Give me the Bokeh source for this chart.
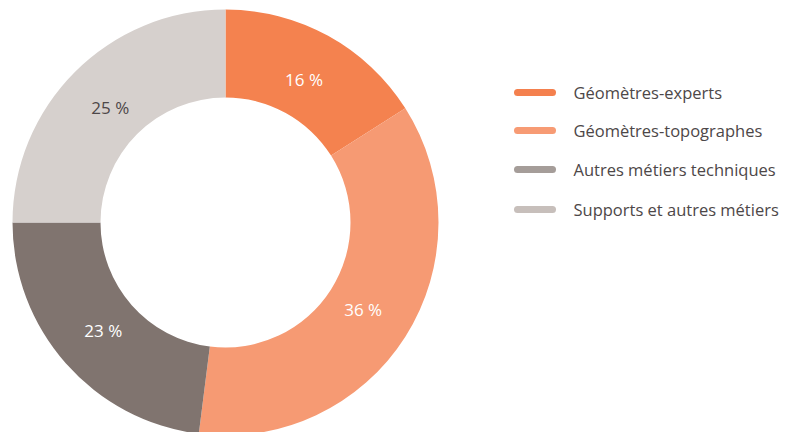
import math
from bokeh.plotting import figure
from bokeh.models import Range1d, ColumnDataSource
from bokeh.core.properties import value
from bokeh.embed import file_html
from bokeh.resources import INLINE

categories = ["Géomètres-experts", "Géomètres-topographes", "Autres métiers techniques", "Supports et autres métiers"]
shares = [16, 36, 23, 25]
labels = ["16 %", "36 %", "23 %", "25 %"]
slice_colors = ["#F4824F", "#F69A73", "#80746F", "#D6D0CD"]
legend_colors = ["#F4804E", "#F79B74", "#A59D99", "#C7BFBB"]
label_colors = ["#FFFFFF", "#FFFFFF", "#FFFFFF", "#4D4748"]

FONT = "Open Sans"
TEXT = "#4D4748"

total = sum(shares)
starts, ends, lx, ly = [], [], [], []
a = math.pi / 2
R_OUT, R_IN, R_LAB = 213, 125, 163
for s in shares:
    span = 2 * math.pi * s / total
    starts.append(a)
    ends.append(a - span)
    mid = a - span / 2
    lx.append(R_LAB * math.cos(mid))
    ly.append(R_LAB * math.sin(mid))
    a -= span

src = ColumnDataSource(dict(start=starts, end=ends, color=slice_colors))

W, H = 789, 432
CX, CY = 225, 222
p = figure(width=W, height=H, output_backend="svg", toolbar_location=None,
           x_range=Range1d(-CX, W - CX), y_range=Range1d(-(H - CY), CY),
           min_border=0)
p.axis.visible = False
p.grid.visible = False
p.outline_line_color = None
p.background_fill_color = "white"
p.border_fill_color = "white"

p.annular_wedge(x=0, y=0, inner_radius=R_IN, outer_radius=R_OUT,
                start_angle="start", end_angle="end", direction="clock",
                fill_color="color", line_color=None, source=src)

p.text(x=lx, y=ly, text=labels, text_color=label_colors,
       text_font=value(FONT), text_font_size="17px",
       text_align="center", text_baseline="middle")

# legend
leg_y = [CY - 92, CY - 130, CY - 169, CY - 209]
for i, c in enumerate(categories):
    p.segment(x0=513 - CX + 4, y0=leg_y[i], x1=556 - CX - 4, y1=leg_y[i],
              line_color=legend_colors[i], line_width=7, line_cap="round")
p.text(x=[573 - CX] * 4, y=leg_y, text=categories, text_color=TEXT,
       text_font=value(FONT), text_font_size="16.5px",
       text_align="left", text_baseline="middle")

open("out.html", "w").write(file_html(p, INLINE))
